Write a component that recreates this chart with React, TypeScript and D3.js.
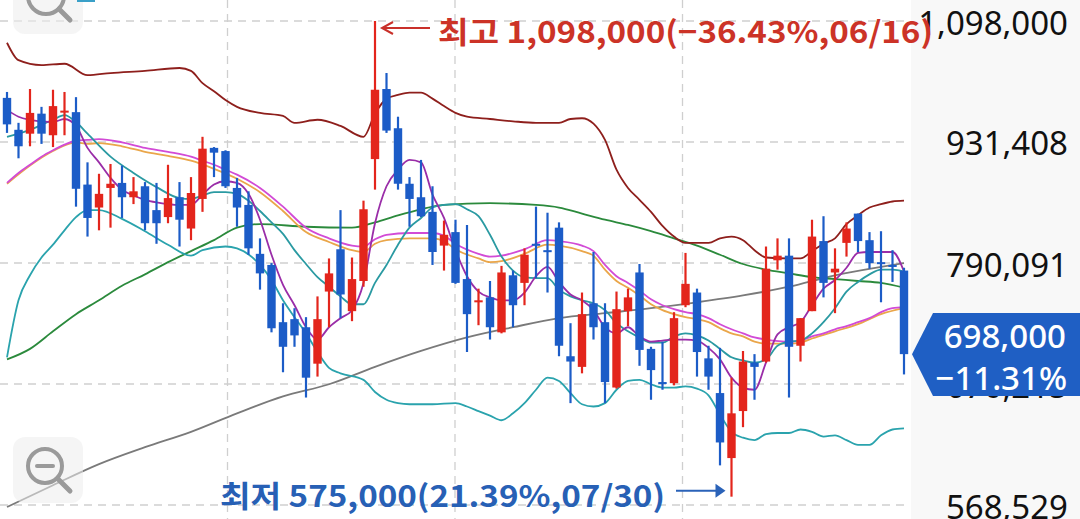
import React from "react";
import * as d3 from "d3";

// all prices below in thousand won
const K = 1000;

const opensK = [989, 947, 942, 968, 940, 970, 970, 879, 852, 875, 881, 864, 877, 849, 841, 864, 828, 862, 924, 920,
  875, 855, 800, 788, 729, 732, 724, 689, 760, 805, 740, 771, 910, 1001, 949, 880, 864, 847, 809, 824,
  773, 749, 754, 719, 777, 769, 811, 804, 829, 696, 686, 748, 729, 667, 740, 780, 703, 672, 671, 746,
  759, 694, 662, 606, 646, 690, 691, 793, 798, 706, 740, 814, 780, 812, 845, 815, 791, 788, 782];
const highsK = [997, 956, 1001, 977, 1000, 997, 990, 906, 892, 904, 902, 888, 882, 881, 903, 882, 888, 938, 925, 921,
  887, 871, 817, 790, 748, 743, 734, 755, 795, 849, 796, 860, 1098, 1023, 964, 888, 909, 877, 837, 838,
  832, 763, 771, 787, 782, 806, 853, 846, 835, 728, 759, 802, 748, 760, 763, 789, 705, 710, 739, 801,
  763, 706, 704, 676, 701, 698, 808, 817, 817, 733, 838, 842, 806, 835, 845, 824, 825, 804, 785];
const lowsK = [943, 911, 926, 929, 925, 940, 853, 819, 826, 829, 840, 856, 826, 811, 834, 808, 815, 847, 888, 875,
  830, 799, 762, 719, 681, 705, 658, 677, 724, 733, 730, 765, 873, 943, 873, 830, 841, 788, 782, 768,
  700, 726, 712, 718, 724, 746, 774, 759, 696, 653, 680, 712, 653, 666, 725, 687, 656, 665, 669, 744,
  677, 665, 600, 575, 632, 656, 690, 783, 658, 691, 740, 754, 738, 797, 802, 784, 749, 770, 679];
const closesK = [954, 926, 969, 942, 978, 972, 874, 840, 868, 880, 864, 871, 834, 834, 863, 838, 869, 923, 918, 877,
  852, 806, 779, 723, 705, 716, 676, 732, 779, 757, 773, 850, 1000, 946, 880, 862, 842, 802, 821, 769,
  737, 751, 724, 780, 746, 799, 809, 802, 706, 691, 737, 724, 672, 742, 754, 702, 683, 671, 733, 768,
  700, 677, 619, 644, 691, 686, 784, 798, 705, 733, 819, 769, 784, 828, 814, 790, 789, 786, 698];

type P = [number, number];
const ma5K: P[] = [[0, 973], [1, 964], [2, 960], [3, 958], [4, 957], [5, 961], [6, 952], [7, 924], [8, 906], [9, 887],
  [10, 873], [11, 866], [12, 861], [13, 858], [14, 856], [15, 855], [16, 855], [17, 867], [18, 879], [19, 883],
  [20, 881], [21, 868], [22, 838], [23, 799], [24, 767], [25, 746], [26, 724], [27, 712], [28, 724], [29, 733],
  [30, 741], [31, 769], [32, 834], [33, 877], [34, 897], [35, 909], [36, 906], [37, 867], [38, 840], [39, 804],
  [40, 776], [41, 760], [42, 754], [43, 751], [44, 751], [45, 759], [46, 776], [47, 786], [48, 770], [49, 757],
  [50, 751], [51, 741], [52, 724], [53, 718], [54, 724], [55, 715], [56, 710], [57, 711], [58, 712], [59, 712],
  [60, 711], [61, 704], [62, 693], [63, 676], [64, 667], [65, 665], [66, 690], [67, 717], [68, 724], [69, 729],
  [70, 746], [71, 763], [72, 772], [73, 785], [74, 801], [75, 802], [76, 802], [77, 802], [78, 781]];
const ma10K: P[] = [[0, 938], [2, 947], [4, 960], [5, 966], [6, 957], [7, 942], [9, 913], [11, 893], [13, 876], [15, 863],
  [16, 862], [17, 866], [18, 870], [19, 870], [20, 868], [21, 860], [22, 848], [23, 835], [24, 822], [25, 804],
  [26, 789], [27, 775], [28, 765], [29, 755], [30, 747], [31, 747], [32, 769], [33, 788], [34, 810], [35, 829],
  [36, 840], [37, 852], [38, 855], [39, 856], [40, 850], [41, 842], [42, 821], [43, 797], [44, 782], [45, 775],
  [46, 774], [47, 774], [48, 762], [49, 755], [50, 751], [51, 748], [52, 741], [53, 728], [54, 720], [55, 714],
  [56, 709], [57, 709], [58, 715], [59, 718], [60, 716], [61, 711], [62, 703], [63, 695], [64, 692], [65, 690],
  [66, 693], [67, 706], [68, 710], [69, 711], [70, 718], [71, 729], [72, 743], [73, 760], [74, 770], [75, 778],
  [76, 783], [77, 783], [78, 781]];
const ma20K: P[] = [[0, 880], [2, 902], [4, 920], [6, 931], [7, 929], [8, 930], [10, 926], [12, 919], [14, 914], [16, 908],
  [18, 898], [20, 886], [22, 870], [24, 848], [26, 824], [28, 813], [30, 804], [31, 802], [32, 811], [33, 815],
  [35, 817], [37, 817], [38, 814], [39, 805], [41, 795], [42, 791], [43, 792], [45, 800], [47, 810], [48, 809],
  [50, 803], [51, 798], [52, 783], [53, 771], [54, 764], [55, 756], [56, 747], [57, 741], [58, 737], [59, 734],
  [60, 732], [61, 729], [62, 723], [63, 718], [64, 715], [65, 710], [66, 708], [68, 708], [69, 709], [70, 713],
  [72, 720], [74, 727], [76, 737], [78, 743]];
const bbMidK: P[] = [[0, 881], [1, 893], [2, 903], [3, 913], [4, 921], [5, 928], [6, 933], [7, 934], [8, 935], [10, 931],
  [12, 924], [14, 919], [16, 913], [17, 908], [18, 903], [19, 897], [20, 891], [22, 875], [24, 853], [26, 829],
  [28, 817], [30, 809], [31, 808], [32, 816], [33, 821], [35, 823], [37, 823], [38, 820], [39, 811], [41, 800],
  [42, 797], [43, 798], [45, 805], [47, 815], [48, 814], [50, 809], [51, 803], [52, 788], [53, 776], [54, 769],
  [55, 761], [56, 752], [57, 746], [58, 742], [59, 739], [60, 737], [61, 733], [62, 727], [63, 722], [64, 718],
  [65, 714], [66, 712], [68, 710], [69, 711], [70, 715], [71, 718], [72, 722], [73, 725], [74, 729], [75, 733],
  [76, 739], [77, 743], [78, 744]];
const bbUpperK: P[] = [[0, 1066], [1, 1041], [3, 1034], [5, 1036], [7, 1020], [9, 1023], [12, 1026], [15, 1030], [16, 1026],
  [17, 1009], [18, 998], [19, 986], [20, 977], [22, 969], [24, 965], [25, 956], [27, 960], [29, 952], [31, 938],
  [32, 968], [33, 988], [34, 993], [35, 996], [36, 996], [37, 988], [38, 978], [39, 969], [40, 964], [42, 961],
  [44, 958], [46, 956], [48, 956], [49, 961], [50, 962], [51, 955], [52, 934], [53, 897], [54, 875], [55, 861],
  [56, 847], [57, 831], [58, 819], [59, 812], [61, 812], [62, 817], [63, 819], [64, 815], [65, 804], [66, 796],
  [68, 795], [69, 795], [70, 803], [71, 811], [72, 817], [73, 833], [74, 843], [75, 852], [76, 856], [77, 859],
  [78, 860]];
const bbLowerK: P[] = [[0, 695], [1, 751], [2, 777], [3, 796], [4, 810], [5, 826], [6, 841], [7, 849], [8, 849], [10, 839],
  [12, 825], [14, 810], [16, 798], [17, 804], [19, 808], [20, 806], [22, 788], [23, 772], [24, 751], [25, 734],
  [26, 718], [27, 700], [28, 685], [29, 680], [31, 674], [32, 663], [33, 656], [34, 653], [35, 652], [37, 652],
  [39, 653], [40, 650], [41, 646], [42, 642], [43, 638], [44, 644], [45, 653], [46, 665], [47, 676], [48, 673],
  [49, 662], [50, 652], [51, 650], [52, 653], [53, 665], [54, 673], [55, 674], [56, 670], [57, 667], [58, 667],
  [59, 668], [60, 666], [61, 660], [62, 643], [63, 628], [64, 623], [65, 621], [66, 626], [67, 627], [68, 627],
  [69, 630], [70, 628], [71, 624], [72, 625], [73, 621], [74, 617], [75, 617], [76, 625], [77, 630], [78, 631]];
const ma60K: P[] = [[0, 693], [2, 703], [4, 720], [6, 737], [8, 751], [10, 766], [12, 778], [14, 791], [16, 803], [18, 815],
  [20, 829], [22, 833], [26, 830], [30, 829], [32, 835], [34, 843], [36, 850], [38, 855], [42, 857], [46, 855],
  [48, 852], [50, 845], [52, 838], [54, 832], [56, 825], [58, 817], [60, 809], [62, 799], [64, 789], [66, 783],
  [68, 779], [70, 775], [72, 773], [74, 771], [76, 769], [78, 764]];
const ma120K: P[] = [[0, 567], [4, 584], [8, 601], [12, 615], [16, 628], [20, 644], [24, 659], [28, 670], [32, 686], [36, 701],
  [40, 714], [44, 724], [48, 733], [52, 738], [56, 743], [60, 749], [64, 756], [68, 765], [72, 777], [76, 786],
  [78, 790]];

const yTicks = [1098000, 931408, 790091, 670215, 568529];
const highLabel = "최고 1,098,000(−36.43%,06/16)";
const lowLabel = "최저 575,000(21.39%,07/30)";
const lastPrice = 698000;
const lastChange = "−11.31%";

const RED = "#e3251c";
const BLUE = "#1c5cc7";

export default function App() {
  const W = 1080, H = 519, plotR = 910;
  const x = d3.scaleLinear().domain([0, closesK.length - 1]).range([7, 904]);
  const y = d3.scaleLog().domain([568529, 1098000]).range([505, 21]);
  const line = d3.line<P>().x(d => x(d[0])).y(d => y(d[1] * K)).curve(d3.curveMonotoneX);
  const fmt = d3.format(",");
  const numFont = "'Noto Sans', 'Open Sans', sans-serif";
  const krFont = "'Noto Sans CJK KR', 'Noto Sans', sans-serif";

  const series: { d: P[]; c: string; w: number }[] = [
    { d: ma120K, c: "#7a7a7a", w: 1.8 },
    { d: ma60K, c: "#2b8a3c", w: 1.8 },
    { d: bbLowerK, c: "#2aa3ad", w: 1.8 },
    { d: bbUpperK, c: "#8e1f1c", w: 1.8 },
    { d: ma20K, c: "#eaa64a", w: 1.8 },
    { d: bbMidK, c: "#d24bd6", w: 1.8 },
    { d: ma10K, c: "#2a9aa2", w: 1.8 },
    { d: ma5K, c: "#9a2da8", w: 1.8 },
  ];

  const hiIdx = highsK.indexOf(Math.max(...highsK));
  const loIdx = lowsK.indexOf(Math.min(...lowsK));
  const hiY = y(highsK[hiIdx] * K) + 7;
  const loY = y(lowsK[loIdx] * K) - 6;
  const hx = x(hiIdx) + 7;
  const lx = x(loIdx) - 6;
  const ly = y(lastPrice);

  return (
    <svg width={W} height={H} style={{ position: "absolute", left: 0, top: 0, background: "#fff" }}>
      <rect x={plotR + 1} y={0} width={W - plotR - 1} height={H} fill="#f8f8f8" />
      {yTicks.map(t => (
        <line key={t} x1={0} x2={plotR} y1={y(t)} y2={y(t)} stroke="#cfcfcf" strokeWidth={1.3} strokeDasharray="8 6" />
      ))}
      {[1, 2, 3].map(k => (
        <line key={k} x1={(plotR * k) / 4} x2={(plotR * k) / 4} y1={0} y2={H} stroke="#cfcfcf" strokeWidth={1.3} strokeDasharray="8 6" />
      ))}
      {series.map((s, i) => (
        <path key={i} d={line(s.d) || ""} fill="none" stroke={s.c} strokeWidth={s.w} strokeLinejoin="round" />
      ))}
      {closesK.map((c, i) => {
        const o = opensK[i];
        const up = c >= o;
        const col = up ? RED : BLUE;
        const top = y(Math.max(o, c) * K);
        const bot = y(Math.min(o, c) * K);
        const cx = x(i);
        return (
          <g key={i}>
            <line x1={cx} x2={cx} y1={y(highsK[i] * K)} y2={y(lowsK[i] * K)} stroke={col} strokeWidth={2.2} />
            <rect x={cx - 4.2} y={top} width={8.4} height={Math.max(2, bot - top)} fill={col} />
          </g>
        );
      })}
      {yTicks.map(t => (
        <text key={t} x={1068} y={y(t) + 1} textAnchor="end" dominantBaseline="central" fontFamily={numFont} fontSize={33} fill="#111">
          {fmt(t)}
        </text>
      ))}
      {/* high annotation */}
      <line x1={hx} x2={430} y1={hiY} y2={hiY} stroke="#c9302a" strokeWidth={2} />
      <path d={`M${hx + 11},${hiY - 6} L${hx},${hiY} L${hx + 11},${hiY + 6}`} fill="none" stroke="#c9302a" strokeWidth={2} />
      <text x={438} y={hiY + 2} dominantBaseline="central" fontFamily={krFont} fontWeight={700} fontSize={30} fill="#cc3327" textLength={495} lengthAdjust="spacingAndGlyphs">
        {highLabel}
      </text>
      {/* low annotation */}
      <line x1={676} x2={lx - 8} y1={loY} y2={loY} stroke="#2a62b8" strokeWidth={2} />
      <path d={`M${lx},${loY} L${lx - 10},${loY - 7} L${lx - 10},${loY + 7} Z`} fill="#2a62b8" />
      <text x={220} y={loY + 3} dominantBaseline="central" fontFamily={krFont} fontWeight={700} fontSize={30} fill="#2760b5" textLength={445} lengthAdjust="spacingAndGlyphs">
        {lowLabel}
      </text>
      {/* last price box */}
      <path d={`M933,313 L${W},313 L${W},396 L933,396 L912,${ly} Z`} fill="#1f5fc4" />
      <text x={1066} y={335} textAnchor="end" dominantBaseline="central" fontFamily={numFont} fontWeight={500} fontSize={33} fill="#fff">
        {fmt(lastPrice)}
      </text>
      <text x={1067} y={377} textAnchor="end" dominantBaseline="central" fontFamily={numFont} fontWeight={500} fontSize={33} fill="#fff">
        {lastChange}
      </text>
      {/* zoom buttons */}
      <rect x={13} y={-30} width={70} height={64} rx={12} fill="#ececec" opacity={0.55} />
      <circle cx={46} cy={-4} r={18} fill="none" stroke="#9a9a9a" strokeWidth={4} />
      <line x1={59} y1={9} x2={70} y2={20} stroke="#9a9a9a" strokeWidth={5} strokeLinecap="round" />
      <line x1={77} y1={1} x2={95} y2={1} stroke="#3aa0c8" strokeWidth={2} />
      <rect x={13} y={437} width={70} height={66} rx={12} fill="#ececec" opacity={0.55} />
      <circle cx={45} cy={466} r={17} fill="none" stroke="#9a9a9a" strokeWidth={4} />
      <line x1={37} y1={466} x2={53} y2={466} stroke="#9a9a9a" strokeWidth={4} strokeLinecap="round" />
      <line x1={58} y1={479} x2={70} y2={491} stroke="#9a9a9a" strokeWidth={5} strokeLinecap="round" />
    </svg>
  );
}
